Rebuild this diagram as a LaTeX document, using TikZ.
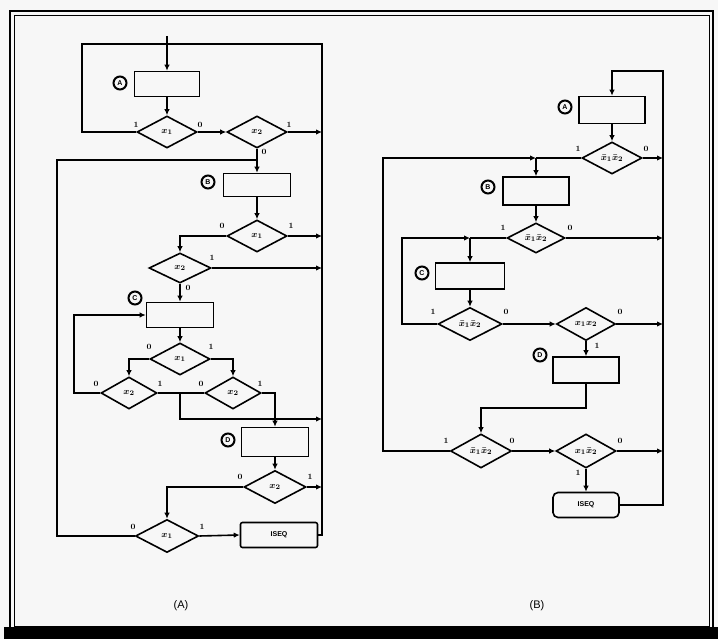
\documentclass[tikz,border=0pt]{standalone}
\usepackage{fontspec}
\setsansfont{Liberation Sans}
\usetikzlibrary{shapes.geometric,arrows.meta}
\begin{document}
\begin{tikzpicture}[x=1pt,y=-1pt,
  line width=1.6pt, line join=miter,
  box/.style={draw, rectangle, inner sep=0pt},
  dec/.style={draw, diamond, inner sep=0pt, minimum width=60pt, minimum height=32pt,
    font=\boldmath\fontsize{9.5}{9.5}\selectfont},
  tag/.style={draw, circle, line width=2pt, inner sep=0pt, minimum size=13pt,
    font=\sffamily\bfseries\fontsize{7}{7}\selectfont},
  bit/.style={font=\bfseries\fontsize{8}{8}\selectfont, inner sep=0pt},
  arr/.style={-{Latex[length=6pt,width=5.5pt]}},
  term/.style={draw, rectangle, rounded corners=2pt, inner sep=0pt,
    font=\sffamily\bfseries\fontsize{7}{7}\selectfont},
  caption/.style={font=\sffamily\fontsize{11}{11}\selectfont},
]
% canvas and frame
\useasboundingbox (0,0) rectangle (718,639);
\fill[gray!6] (0,0) rectangle (718,639);
\draw[line width=2.4pt] (10,11) rectangle (713,632);
\draw[line width=0.9pt] (14,15) rectangle (709,626);
\fill[black] (4,627) rectangle (718,639);

% ---------------- flowchart (A) ----------------
\coordinate (busA) at (322,0);
\coordinate (inA) at (167,44);
\coordinate (stubA) at (167,36);
\coordinate (cornA) at (82,44);
\coordinate (retB) at (257,160);
\coordinate (lpB) at (57,160);
\coordinate (lpC) at (74,0);
\coordinate (jD) at (180,419);

\node[box, minimum width=65pt, minimum height=25pt] (bA) at (167,84) {};
\node[tag] at (120,83) {A};
\node[dec] (dA1) at (167,132) {$x_1$};
\node[dec] (dA2) at (257,132) {$x_2$};
\node[box, minimum width=67pt, minimum height=23pt] (bB) at (257,185) {};
\node[tag] at (208,182) {B};
\node[dec] (dB1) at (257,236) {$x_1$};
\node[dec, minimum width=62pt, minimum height=30pt] (dB2) at (180,268) {$x_2$};
\node[box, minimum width=67pt, minimum height=25pt] (bC) at (180,315) {};
\node[tag] at (135,298) {C};
\node[dec] (dC1) at (180,359) {$x_1$};
\node[dec, minimum width=56pt] (dC2) at (129,393) {$x_2$};
\node[dec, minimum width=56pt] (dC3) at (233,393) {$x_2$};
\node[box, minimum width=67pt, minimum height=29pt] (bD) at (275,442) {};
\node[tag] at (228,440) {D};
\node[dec, minimum width=62pt, minimum height=33pt] (dD1) at (275,487) {$x_2$};
\node[dec, minimum width=63pt, minimum height=33pt] (dD2) at (167,536) {$x_1$};
\node[term, minimum width=77pt, minimum height=25pt] (eA) at (279,535) {ISEQ};

\draw (stubA) -- (inA);
\draw (eA.east) -| (busA |- inA) -- (cornA) |- (dA1.west);
\draw[arr] (inA) -- (bA.north);
\draw[arr] (bA.south) -- (dA1.north);
\draw[arr] (dA1.east) -- (dA2.west);
\draw[arr] (dA2.east) -- (dA2.east -| busA);
\draw[arr] (dA2.south) -- (bB.north);
\draw (dD2.west) -| (lpB) -- (retB);
\draw[arr] (bB.south) -- (dB1.north);
\draw[arr] (dB1.east) -- (dB1.east -| busA);
\draw[arr] (dB1.west) -| (dB2.north);
\draw[arr] (dB2.east) -- (dB2.east -| busA);
\draw[arr] (dB2.south) -- (bC.north);
\draw[arr] (dC2.west) -| (lpC |- bC.west) -- (bC.west);
\draw[arr] (bC.south) -- (dC1.north);
\draw[arr] (dC1.west) -| (dC2.north);
\draw[arr] (dC1.east) -| (dC3.north);
\draw (dC2.east) -- (dC3.west);
\draw[arr] (dC2.east -| dC1.south) -- (jD) -- (jD -| busA);
\draw[arr] (dC3.east) -| (bD.north);
\draw[arr] (bD.south) -- (dD1.north);
\draw[arr] (dD1.east) -- (dD1.east -| busA);
\draw[arr] (dD1.west) -| (dD2.north);
\draw[arr] (dD2.east) -- (eA.west);

\node[bit] at (136,125) {1};  \node[bit] at (200,125) {0};
\node[bit] at (289,125) {1};  \node[bit] at (264,152) {0};
\node[bit] at (222,226) {0};  \node[bit] at (291,226) {1};
\node[bit] at (212,258) {1};  \node[bit] at (188,288) {0};
\node[bit] at (149,347) {0};  \node[bit] at (211,347) {1};
\node[bit] at (96,384) {0};   \node[bit] at (160,384) {1};
\node[bit] at (201,384) {0};  \node[bit] at (260,384) {1};
\node[bit] at (240,477) {0};  \node[bit] at (310,477) {1};
\node[bit] at (133,527) {0};  \node[bit] at (202,527) {1};

\node[caption] at (181,606) {(A)};

% ---------------- flowchart (B) ----------------
\coordinate (topB) at (663,71);
\coordinate (inB) at (612,71);
\coordinate (jB) at (536,158);
\coordinate (jC) at (470,238);
\coordinate (lpE) at (383,158);
\coordinate (lpF) at (402,238);
\coordinate (kD) at (586,408);

\node[box, minimum width=66pt, minimum height=27pt] (BbA) at (612,110) {};
\node[tag] at (565,107) {A};
\node[dec] (BdA) at (612,158) {$\bar x_1\bar x_2$};
\node[box, minimum width=66pt, minimum height=28pt] (BbB) at (536,191) {};
\node[tag] at (488,187) {B};
\node[dec, minimum width=58pt, minimum height=30pt] (BdB) at (536,238) {$\bar x_1\bar x_2$};
\node[box, minimum width=69pt, minimum height=26pt] (BbC) at (470,276) {};
\node[tag] at (422,273) {C};
\node[dec, minimum width=64pt, minimum height=33pt] (BdC) at (470,324) {$\bar x_1\bar x_2$};
\node[dec, minimum width=59pt, minimum height=33pt] (BdD) at (586,324) {$x_1x_2$};
\node[box, minimum width=66pt, minimum height=26pt] (BbD) at (586,370) {};
\node[tag] at (540,355) {D};
\node[dec, minimum width=61pt, minimum height=34pt] (BdE) at (481,451) {$\bar x_1\bar x_2$};
\node[dec, minimum width=60pt, minimum height=34pt] (BdF) at (586,451) {$x_1\bar x_2$};
\node[term, rounded corners=5pt, minimum width=66pt, minimum height=25pt] (BeA) at (586,505) {ISEQ};

\draw[arr] (BeA.east) -| (topB) -- (inB) -- (BbA.north);
\draw[arr] (BbA.south) -- (BdA.north);
\draw[arr] (BdA.east) -- (BdA.east -| topB);
\draw (BdA.west) -- (jB);
\draw[arr] (BdE.west) -| (lpE) -- (jB);
\draw[arr] (jB) -- (BbB.north);
\draw[arr] (BbB.south) -- (BdB.north);
\draw[arr] (BdB.east) -- (BdB.east -| topB);
\draw (BdB.west) -- (jC);
\draw[arr] (BdC.west) -| (lpF) -- (jC);
\draw[arr] (jC) -- (BbC.north);
\draw[arr] (BbC.south) -- (BdC.north);
\draw[arr] (BdC.east) -- (BdD.west);
\draw[arr] (BdD.east) -- (BdD.east -| topB);
\draw[arr] (BdD.south) -- (BbD.north);
\draw[arr] (BbD.south) -- (kD) -| (BdE.north);
\draw[arr] (BdE.east) -- (BdF.west);
\draw[arr] (BdF.east) -- (BdF.east -| topB);
\draw[arr] (BdF.south) -- (BeA.north);

\node[bit] at (578,149) {1};  \node[bit] at (646,149) {0};
\node[bit] at (503,228) {1};  \node[bit] at (570,228) {0};
\node[bit] at (433,312) {1};  \node[bit] at (506,312) {0};
\node[bit] at (620,312) {0};  \node[bit] at (597,346) {1};
\node[bit] at (446,441) {1};  \node[bit] at (512,441) {0};
\node[bit] at (620,441) {0};  \node[bit] at (578,473) {1};

\node[caption] at (537,606) {(B)};
\end{tikzpicture}
\end{document}
